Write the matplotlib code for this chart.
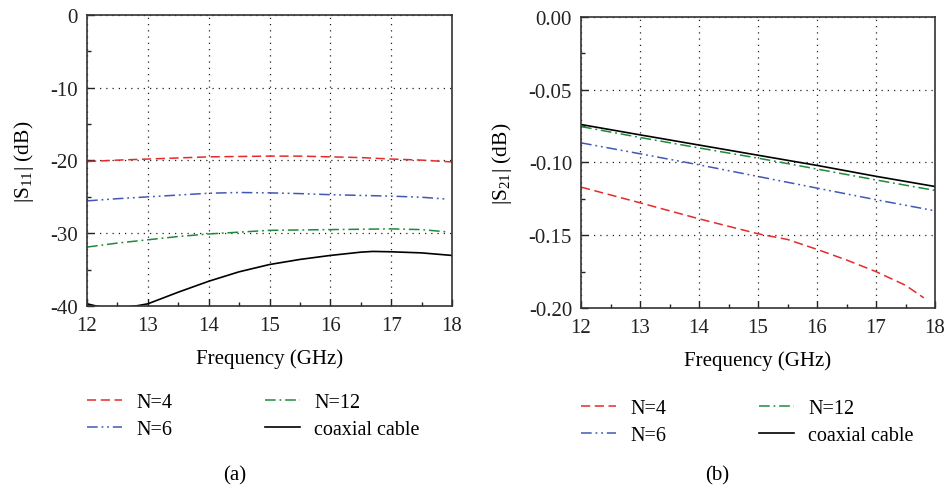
import matplotlib
matplotlib.use("Agg")
import matplotlib.pyplot as plt
from matplotlib.ticker import MultipleLocator, FormatStrFormatter

plt.rcParams["font.family"] = ["Liberation Serif", "DejaVu Serif"]
plt.rcParams["axes.unicode_minus"] = False
plt.rcParams["mathtext.fontset"] = "custom"
plt.rcParams["mathtext.rm"] = "Liberation Serif"

# reflection |S11| (dB)
f11 = [12.0, 12.5, 13.0, 13.5, 14.0, 14.5, 15.0, 15.5, 16.0, 16.5, 17.0, 17.5, 18.0]
s11_n4 = [-20.15, -19.95, -19.8, -19.65, -19.5, -19.45, -19.4, -19.4, -19.5, -19.6, -19.8, -19.95, -20.2]
f11_b = [12.0, 12.5, 13.0, 13.5, 14.0, 14.5, 15.0, 15.5, 16.0, 16.5, 17.0, 17.5, 17.9]
s11_n6 = [-25.55, -25.25, -25.0, -24.75, -24.5, -24.4, -24.45, -24.55, -24.7, -24.8, -24.9, -25.05, -25.3]
s11_n12 = [-31.9, -31.35, -30.9, -30.45, -30.1, -29.85, -29.6, -29.55, -29.5, -29.45, -29.4, -29.5, -29.8]
f11_coax = [12.0, 12.2, 12.5, 12.8, 13.0, 13.5, 14.0, 14.5, 15.0, 15.5, 16.0, 16.5, 16.7, 17.0, 17.5, 18.0]
s11_coax = [-39.7, -40.1, -40.3, -40.0, -39.7, -38.1, -36.6, -35.3, -34.3, -33.6, -33.05, -32.6, -32.5, -32.55, -32.7, -33.05]

# transmission |S21| (dB)
f21 = [12.0, 13.0, 14.0, 15.0, 16.0, 17.0, 18.0]
s21_n6 = [-0.0865, -0.094, -0.1016, -0.1096, -0.1176, -0.1256, -0.1332]
s21_n12 = [-0.0753, -0.0828, -0.0900, -0.0970, -0.1045, -0.1120, -0.1192]
s21_coax = [-0.0739, -0.0810, -0.0880, -0.0950, -0.1020, -0.1095, -0.1165]
f21_n4 = [12.0, 13.0, 14.0, 15.0, 15.5, 16.0, 16.5, 17.0, 17.5, 17.81]
s21_n4 = [-0.1169, -0.1277, -0.1387, -0.1490, -0.1529, -0.1597, -0.1670, -0.1750, -0.1844, -0.1930]

labels = ["N=4", "N=6", "N=12", "coaxial cable"]

red = "#e52a2a"
blue = "#4258b4"
green = "#1f8a3a"
dashed = (0, (6, 3))
dashdotdot = (0, (7, 2.5, 1.2, 2.5, 1.2, 2.5))
dashdot = (0, (7, 2.5, 1.2, 2.5))
fs = 15

fig = plt.figure(figsize=(9.48, 4.89), dpi=100)
ax1 = fig.add_axes([0.0918, 0.3722, 0.3850, 0.5951])
ax2 = fig.add_axes([0.6129, 0.3681, 0.3734, 0.5951])


def style_axes(ax):
    ax.grid(True, which="major", linestyle=(0, (1, 4)), color="#222222", linewidth=0.9)
    ax.tick_params(which="both", direction="in", top=False, right=False,
                   labelsize=fs, colors="#222222", width=1.0)
    ax.tick_params(which="major", length=5)
    ax.tick_params(which="minor", length=3)
    ax.tick_params(axis="x", pad=7.5)
    ax.tick_params(axis="y", pad=6.5)
    for sp in ax.spines.values():
        sp.set_linewidth(1.2)
        sp.set_color("#333333")
    ax.xaxis.set_major_locator(MultipleLocator(1))
    ax.xaxis.set_minor_locator(MultipleLocator(0.5))
    ax.set_xlim(12, 18)
    ax.set_xlabel("Frequency (GHz)", fontsize=fs, labelpad=9)


lw = 1.1
ax1.plot(f11, s11_n4, color=red, linestyle=dashed, linewidth=lw, label=labels[0])
ax1.plot(f11_b, s11_n6, color=blue, linestyle=dashdotdot, linewidth=lw, label=labels[1])
ax1.plot(f11_b, s11_n12, color=green, linestyle=dashdot, linewidth=lw, label=labels[2])
ax1.plot(f11_coax, s11_coax, color="black", linestyle="-", linewidth=1.2, label=labels[3])
ax1.set_ylim(-40, 0)
ax1.yaxis.set_major_locator(MultipleLocator(10))
ax1.yaxis.set_minor_locator(MultipleLocator(5))
ax1.set_ylabel("|S$_{11}$| (dB)", fontsize=15.5)
style_axes(ax1)
ax1.yaxis.set_label_coords(-0.14, 0.5)

ax2.plot(f21_n4, s21_n4, color=red, linestyle=dashed, linewidth=lw, label=labels[0])
ax2.plot(f21, s21_n6, color=blue, linestyle=dashdotdot, linewidth=lw, label=labels[1])
ax2.plot(f21, s21_n12, color=green, linestyle=dashdot, linewidth=lw, label=labels[2])
ax2.plot(f21, s21_coax, color="black", linestyle="-", linewidth=1.2, label=labels[3])
ax2.set_ylim(-0.2, 0)
ax2.yaxis.set_major_locator(MultipleLocator(0.05))
ax2.yaxis.set_minor_locator(MultipleLocator(0.025))
ax2.yaxis.set_major_formatter(FormatStrFormatter("%.2f"))
ax2.set_ylabel("|S$_{21}$| (dB)", fontsize=15.5)
style_axes(ax2)
ax2.yaxis.set_label_coords(-0.188, 0.5)

leg_kw = dict(ncol=2, frameon=False, fontsize=14.5, handlelength=1.75,
              handletextpad=0.7, columnspacing=4.6, labelspacing=0.4,
              borderpad=0, borderaxespad=0, loc="upper left")
h, lab = ax1.get_legend_handles_labels()
fig.legend(h, lab, bbox_to_anchor=(0.0918, 1 - 394 / 489), **leg_kw)
h2, lab2 = ax2.get_legend_handles_labels()
fig.legend(h2, lab2, bbox_to_anchor=(0.6129, 1 - 400 / 489), **leg_kw)

fig.text(0.2479, 1 - 476 / 489, "(a)", ha="center", va="center", fontsize=fs)
fig.text(0.7563, 1 - 476 / 489, "(b)", ha="center", va="center", fontsize=fs)

fig.savefig("out.png", dpi=100)
